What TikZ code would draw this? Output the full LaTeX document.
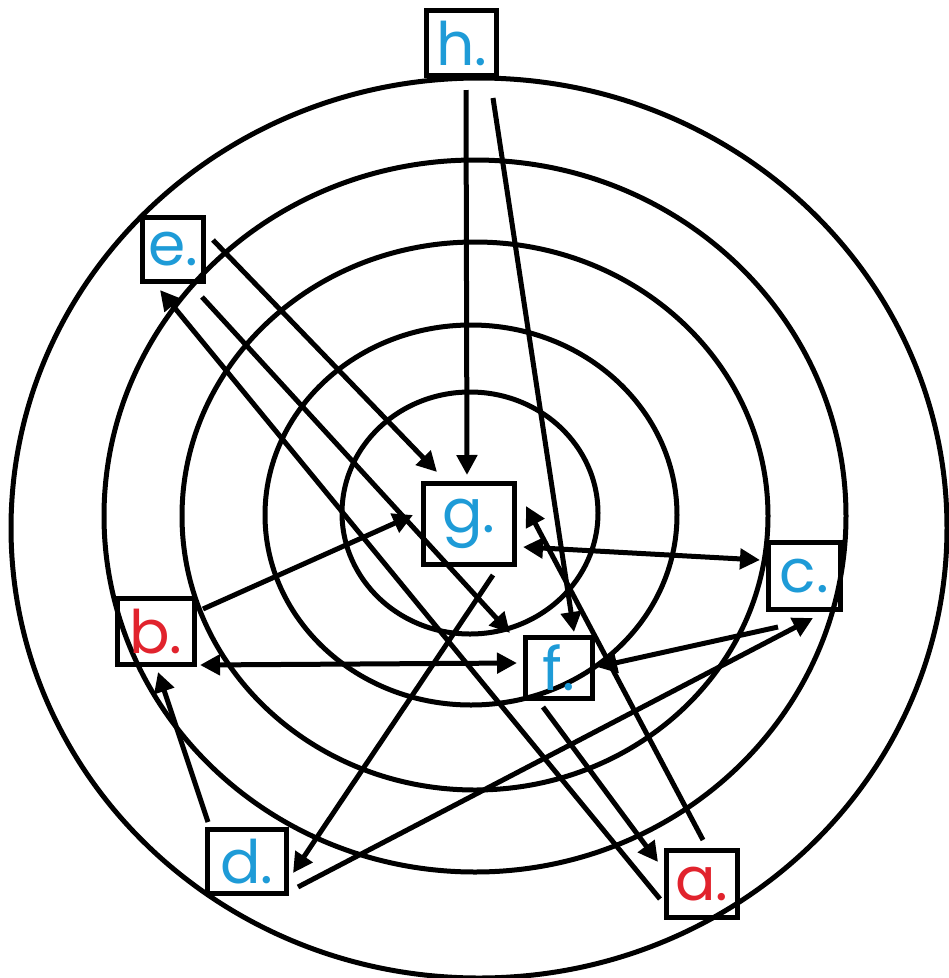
\documentclass[tikz,border=0pt]{standalone}
\usepackage{fontspec}
\newfontfamily\handfont{Poppins}
\usetikzlibrary{arrows.meta}
\definecolor{lblue}{RGB}{30,155,215}
\definecolor{lred}{RGB}{225,35,45}
\tikzset{
  ring/.style={draw=black, line width=5pt},
  box/.style={draw=black, line width=5pt, rectangle, inner sep=0pt,
    font=\handfont\fontsize{60}{60}\selectfont},
  bluetxt/.style={text=lblue},
  redtxt/.style={text=lred},
  conn/.style={draw=black, line width=5pt, -{Triangle[length=20pt,width=20pt]}},
  conn2/.style={draw=black, line width=5pt, {Triangle[length=20pt,width=20pt]}-{Triangle[length=20pt,width=20pt]}},
}
\begin{document}
\begin{tikzpicture}[x=1pt,y=-1pt]
\useasboundingbox (0,0) rectangle (949,978);
\clip (0,0) rectangle (949,978);
% rings
\draw[ring] (479,528) ellipse [x radius=468, y radius=450];
\draw[ring] (475,516) ellipse [x radius=371, y radius=356];
\draw[ring] (475,516) ellipse [x radius=293, y radius=274];
\draw[ring] (471,515) ellipse [x radius=206, y radius=190];
\draw[ring] (470,513) ellipse [x radius=128, y radius=121];
% boxes
\node[box,bluetxt,minimum width=70pt,minimum height=65pt] (h) at (461.5,43) {h.};
\node[box,bluetxt,minimum width=61pt,minimum height=64pt] (e) at (173,249.5) {e.};
\node[box,bluetxt,minimum width=91pt,minimum height=81pt] (g) at (469,524) {g.};
\node[box,bluetxt,minimum width=72pt,minimum height=67pt] (c) at (804.5,576) {c.};
\node[box,redtxt,minimum width=77pt,minimum height=66pt] (b) at (156,631.5) {b.};
\node[box,bluetxt,minimum width=79pt,minimum height=64pt] (d) at (247,861.5) {d.};
\node[box,bluetxt,minimum width=67pt,minimum height=61pt] (f) at (559,668) {f.};
\node[box,redtxt,minimum width=71pt,minimum height=67pt] (a) at (702,884) {a.};
% connector end points
\coordinate (hg1) at (466,90);   \coordinate (hg2) at (467,475);
\coordinate (hf1) at (493,98);   \coordinate (hf2) at (574,632);
\coordinate (eg1) at (213,240);  \coordinate (eg2) at (437,472);
\coordinate (ef1) at (202,297);  \coordinate (ef2) at (510,633);
\coordinate (ae1) at (660,899);  \coordinate (ae2) at (160,290);
\coordinate (ag1) at (703,840);  \coordinate (ag2) at (526,506);
\coordinate (fa1) at (543,707);  \coordinate (fa2) at (658,862);
\coordinate (gd1) at (493,575);  \coordinate (gd2) at (293,873);
\coordinate (dc1) at (298,887);  \coordinate (dc2) at (813,618);
\coordinate (db1) at (208,822);  \coordinate (db2) at (158,672);
\coordinate (bg1) at (203,609);  \coordinate (bg2) at (413,515);
\coordinate (bf1) at (200,665);  \coordinate (bf2) at (517,663);
\coordinate (gc1) at (523,547);  \coordinate (gc2) at (760,560);
\coordinate (cf1) at (778,627);  \coordinate (cf2) at (597,667);
% connectors
\draw[conn] (hg1) -- (hg2);
\draw[conn] (hf1) -- (hf2);
\draw[conn] (eg1) -- (eg2);
\draw[conn] (ef1) -- (ef2);
\draw[conn] (ae1) -- (ae2);
\draw[conn] (ag1) -- (ag2);
\draw[conn] (fa1) -- (fa2);
\draw[conn] (gd1) -- (gd2);
\draw[conn] (dc1) -- (dc2);
\draw[conn] (db1) -- (db2);
\draw[conn] (bg1) -- (bg2);
\draw[conn2] (bf1) -- (bf2);
\draw[conn2] (gc1) -- (gc2);
\draw[conn] (cf1) -- (cf2);
\end{tikzpicture}
\end{document}
